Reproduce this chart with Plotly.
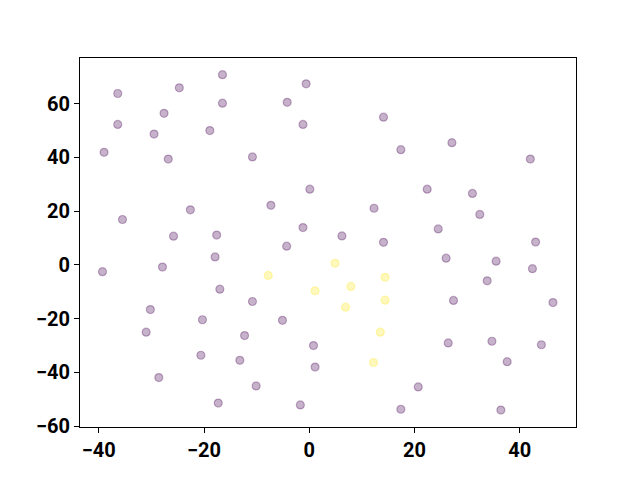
import plotly.graph_objects as go

# points, split by class (0 = purple, 1 = yellow)
x_class0 = [-16.5, -0.6, -36.4, -24.7, -16.5, -4.2, -27.6, -36.4, -29.5, -18.9,
            -1.2, -39.0, -26.8, -10.8, 0.1, -7.3, -22.6, -35.5, -1.2, -25.8,
            -17.6, -4.3, 14.1, 17.4, 27.1, 42.0, 22.4, 31.0, 12.3, 32.4,
            24.5, 6.2, 14.1, 43.0, -17.9, -39.3, -27.9, -17.0, -10.8, -30.2,
            -20.3, -5.1, -31.0, -12.3, 0.8, -20.6, -13.2, 1.1, -28.6, -10.1,
            -17.3, -1.7, 26.0, 35.5, 42.4, 33.8, 27.4, 46.3, 26.4, 34.7,
            44.1, 37.6, 20.7, 17.4, 36.4]
y_class0 = [70.8, 67.4, 63.8, 65.9, 60.2, 60.5, 56.4, 52.3, 48.7, 50.0,
            52.3, 41.9, 39.4, 40.2, 28.2, 22.2, 20.5, 16.9, 13.9, 10.7,
            11.1, 7.0, 55.0, 42.9, 45.5, 39.4, 28.2, 26.6, 21.1, 18.8,
            13.4, 10.8, 8.4, 8.5, 3.0, -2.5, -0.8, -9.0, -13.6, -16.6,
            -20.4, -20.6, -25.0, -26.3, -30.0, -33.6, -35.5, -38.0, -41.9, -45.0,
            -51.4, -52.1, 2.5, 1.4, -1.4, -5.9, -13.2, -14.0, -29.0, -28.4,
            -29.7, -36.0, -45.4, -53.7, -54.0]

x_class1 = [-7.8, 1.1, 4.9, 14.4, 7.9, 6.9, 14.4, 13.5, 12.2]
y_class1 = [-3.9, -9.6, 0.6, -4.6, -8.0, -15.7, -13.1, -25.0, -36.3]

purple = 'rgba(68, 1, 84, 0.3)'
yellow = 'rgba(253, 231, 37, 0.3)'

fig = go.Figure()
for xs, ys, c in [(x_class0, y_class0, purple), (x_class1, y_class1, yellow)]:
    fig.add_trace(go.Scatter(x=xs, y=ys, mode='markers',
                             marker=dict(size=8, color=c,
                                         line=dict(color=c, width=1.2)),
                             showlegend=False))

axis_style = dict(showline=True, linecolor='black', linewidth=1, mirror=True,
                  ticks='outside', ticklen=5, tickwidth=1, tickcolor='black',
                  showgrid=False, zeroline=False, automargin=False,
                  tickfont=dict(family='Roboto', size=20,
                                color='black', weight='bold'))

fig.update_xaxes(range=[-43.57, 50.68], tickvals=[-40, -20, 0, 20, 40],
                 **axis_style)
fig.update_yaxes(range=[-60.3, 77.0], tickvals=[-60, -40, -20, 0, 20, 40, 60],
                 **axis_style)

# page body adds an 8px offset, so margins are shifted to compensate
fig.update_layout(width=640, height=480,
                  margin=dict(l=72, r=72, t=50, b=61),
                  plot_bgcolor='white', paper_bgcolor='white')

fig.write_html("out.html")
